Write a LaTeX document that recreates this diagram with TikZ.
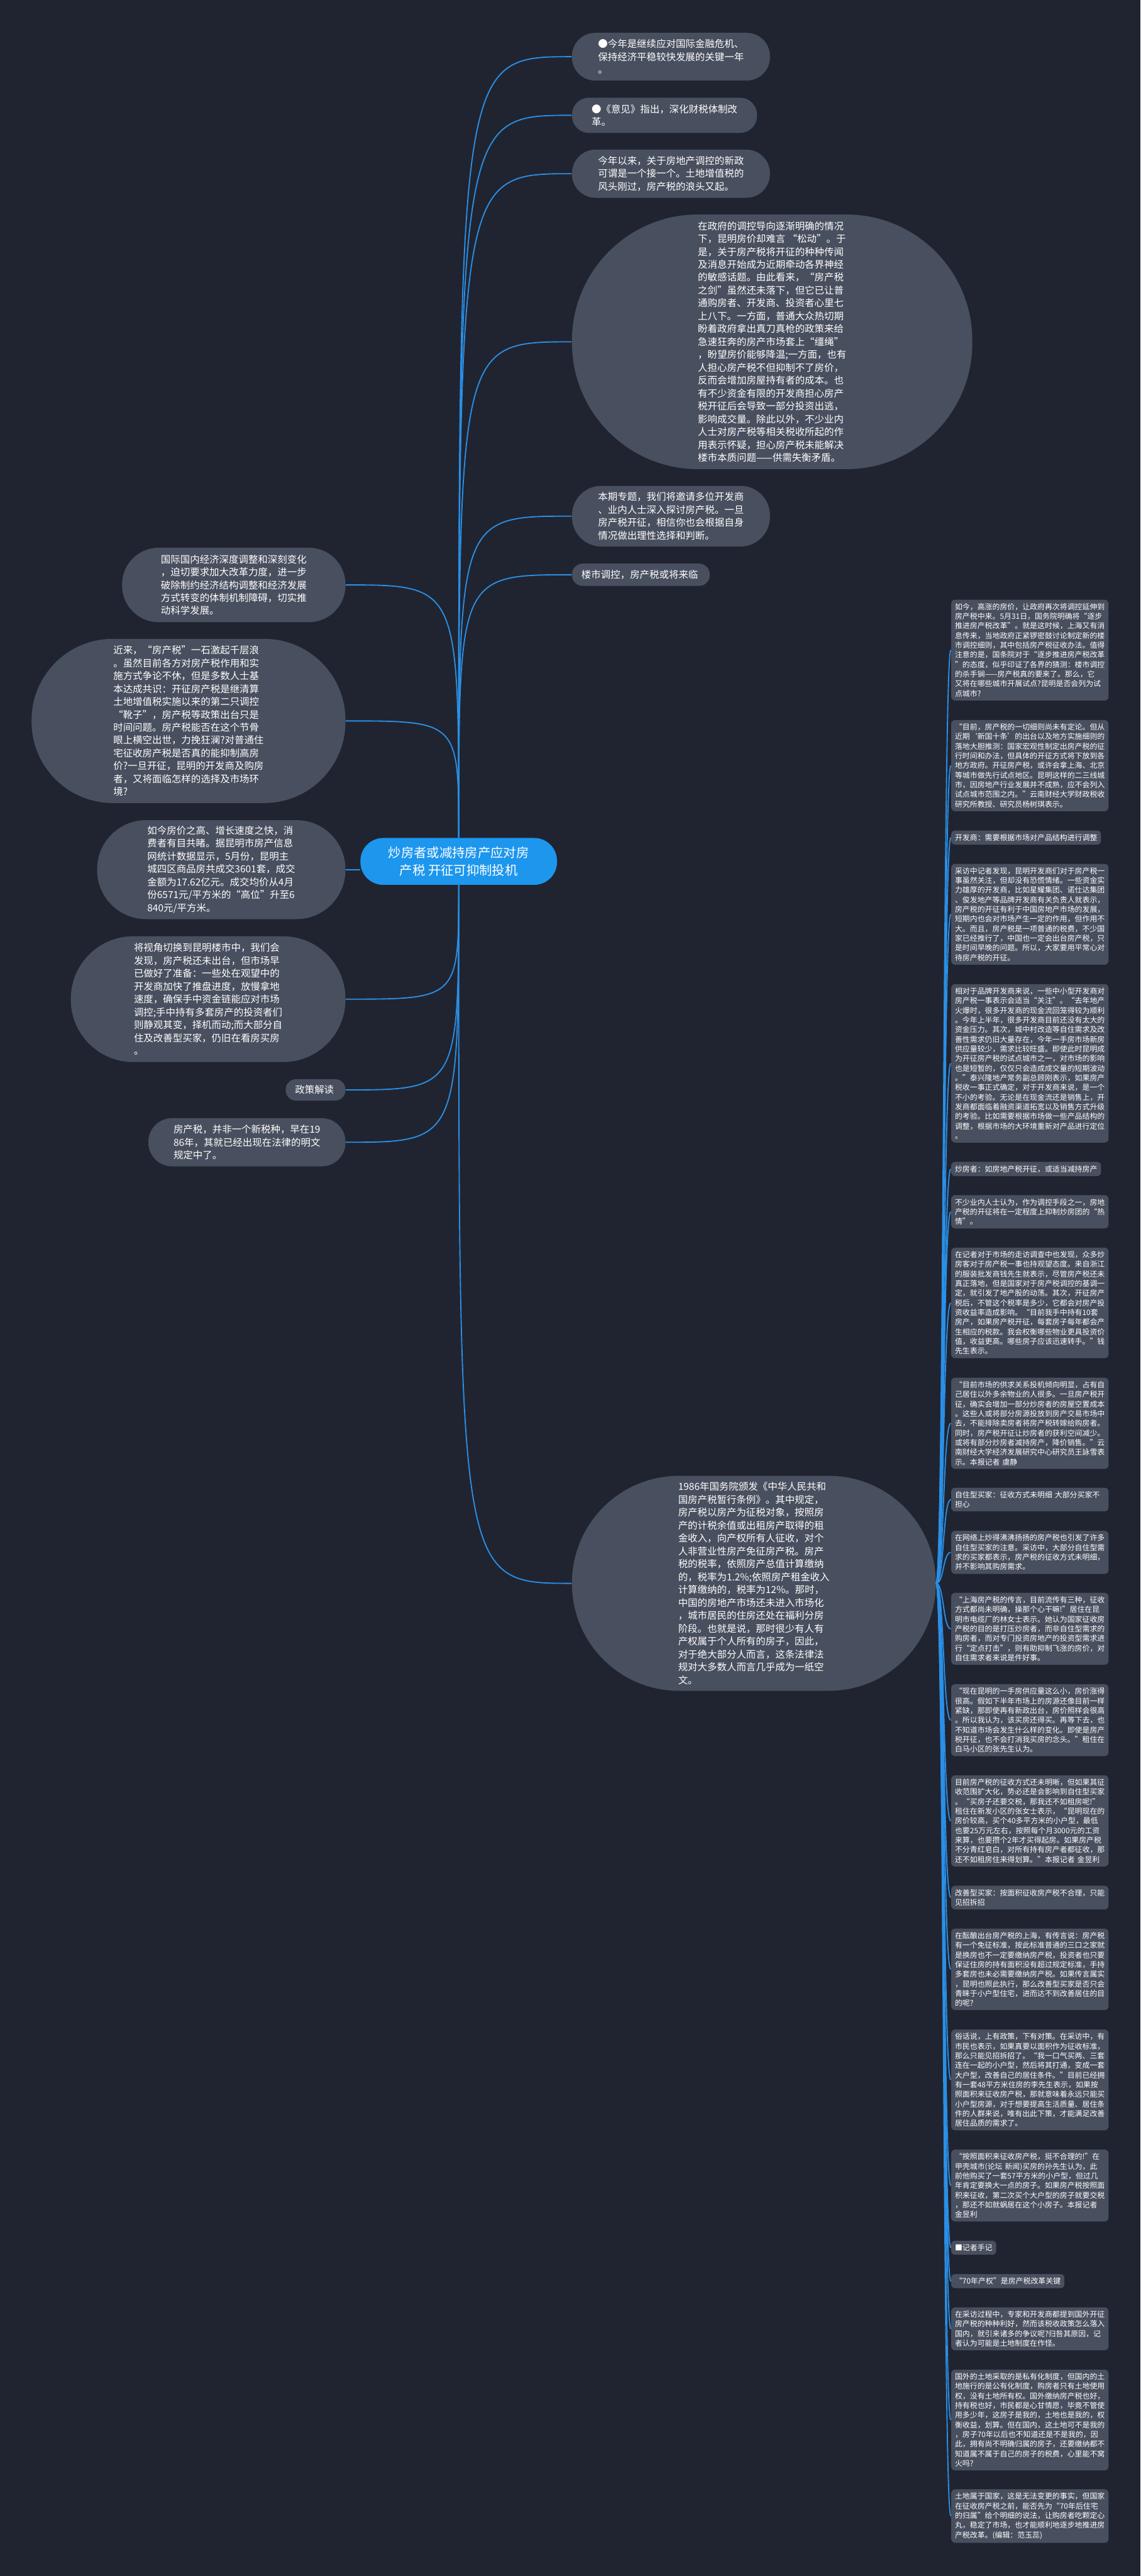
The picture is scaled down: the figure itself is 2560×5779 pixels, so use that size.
\documentclass[tikz,border=0pt]{standalone}
\usepackage{fontspec}
\setmainfont{Noto Sans CJK SC}
\usetikzlibrary{positioning}

\definecolor{bgNavy}{HTML}{202430}
\definecolor{bubbleGray}{HTML}{484F5E}
\definecolor{linkBlue}{HTML}{2A8FE6}
\definecolor{rootBlue}{HTML}{1D96EE}
\newcommand{\txtsize}[2]{\fontsize{#1pt}{#2pt}\selectfont}

\begin{document}
\begin{tikzpicture}[x=0.01cm, y=-0.01cm]
		\tikzstyle{bubble}=[fill=bubbleGray, text=white, align=left, inner sep=0pt, font=\txtsize{6.2}{8.22}]
		\tikzstyle{note}=[fill=bubbleGray, text=white, align=left, rounded corners=0.09cm, inner xsep=0.085cm, inner ysep=0.08cm, anchor=west, font=\txtsize{4.78}{6.15}]
		\tikzstyle{noteWide}=[note, text width=3.36cm]
		\tikzstyle{edgeLine}=[draw=linkBlue, line width=0.75pt]

		\fill[bgNavy] (0,0) rectangle (2560,5779);
		\useasboundingbox (0,0) rectangle (2560,5779);

		\node[fill=rootBlue, text=white, align=center, inner sep=0pt, minimum width=4.41cm, minimum height=1.05cm, rounded corners=0.51cm, font=\txtsize{8.17}{11.4}] (root) at (1029.5,1932.5) {
			炒房者或减持房产应对房\\产税 开征可抑制投机
		};

		\node[bubble, anchor=north west, minimum width=4.44cm, minimum height=1.07cm, rounded corners=0.52cm] (intro1) at (1283,73) {
			●今年是继续应对国际金融危机、\\保持经济平稳较快发展的关键一年\\。
		};

		\node[bubble, below=0.37cm of intro1.south west, anchor=north west, minimum width=4.15cm, minimum height=0.79cm, rounded corners=0.38cm] (intro2) {
			●《意见》指出，深化财税体制改\\革。
		};

		\node[bubble, below=0.36cm of intro2.south west, anchor=north west, minimum width=4.44cm, minimum height=1.08cm, rounded corners=0.53cm] (intro3) {
			今年以来，关于房地产调控的新政\\可谓是一个接一个。土地增值税的\\风头刚过，房产税的浪头又起。
		};

		\node[bubble, below=0.36cm of intro3.south west, anchor=north west, minimum width=8.98cm, minimum height=5.71cm, rounded corners=2.83cm] (intro4) {
			在政府的调控导向逐渐明确的情况\\下，昆明房价却难言 “松动”。于\\是，关于房产税将开征的种种传闻\\及消息开始成为近期牵动各界神经\\的敏感话题。由此看来，“房产税\\之剑”虽然还未落下，但它已让普\\通购房者、开发商、投资者心里七\\上八下。一方面，普通大众热切期\\盼着政府拿出真刀真枪的政策来给\\急速狂奔的房产市场套上“缰绳”\\，盼望房价能够降温;一方面，也有\\人担心房产税不但抑制不了房价，\\反而会增加房屋持有者的成本。也\\有不少资金有限的开发商担心房产\\税开征后会导致一部分投资出逃，\\影响成交量。除此以外，不少业内\\人士对房产税等相关税收所起的作\\用表示怀疑，担心房产税未能解决\\楼市本质问题——供需失衡矛盾。
		};

		\node[bubble, below=0.36cm of intro4.south west, anchor=north west, minimum width=4.44cm, minimum height=1.36cm, rounded corners=0.66cm] (intro5) {
			本期专题，我们将邀请多位开发商\\、业内人士深入探讨房产税。一旦\\房产税开征，相信你也会根据自身\\情况做出理性选择和判断。
		};

		\node[bubble, below=0.37cm of intro5.south west, anchor=north west, minimum width=3.09cm, minimum height=0.50cm, rounded corners=0.24cm] (intro6) {
			楼市调控，房产税或将来临
		};

		\node[bubble, anchor=north east, minimum width=5.01cm, minimum height=1.67cm, rounded corners=0.82cm] (left1) at (776,1228) {
			国际国内经济深度调整和深刻变化\\，迫切要求加大改革力度，进一步\\破除制约经济结构调整和经济发展\\方式转变的体制机制障碍，切实推\\动科学发展。
		};

		\node[bubble, below=0.36cm of left1.south east, anchor=north east, minimum width=7.04cm, minimum height=3.68cm, rounded corners=1.82cm] (left2) {
			近来，“房产税”一石激起千层浪\\。虽然目前各方对房产税作用和实\\施方式争论不休，但是多数人士基\\本达成共识：开征房产税是继清算\\土地增值税实施以来的第二只调控\\“靴子”，房产税等政策出台只是\\时间问题。房产税能否在这个节骨\\眼上横空出世，力挽狂澜?对普通住\\宅征收房产税是否真的能抑制高房\\价?一旦开征，昆明的开发商及购房\\者，又将面临怎样的选择及市场环\\境?
		};

		\node[bubble, below=0.37cm of left2.south east, anchor=north east, minimum width=5.57cm, minimum height=2.22cm, rounded corners=1.1cm] (left3) {
			如今房价之高、增长速度之快，消\\费者有目共睹。据昆明市房产信息\\网统计数据显示，5月份，昆明主\\城四区商品房共成交3601套，成交\\金额为17.62亿元。成交均价从4月\\份6571元/平方米的“高位”升至6\\840元/平方米。
		};

		\node[bubble, below=0.37cm of left3.south east, anchor=north east, minimum width=6.16cm, minimum height=2.82cm, rounded corners=1.4cm] (left4) {
			将视角切换到昆明楼市中，我们会\\发现，房产税还未出台，但市场早\\已做好了准备：一些处在观望中的\\开发商加快了推盘进度，放慢拿地\\速度，确保手中资金链能应对市场\\调控;手中持有多套房产的投资者们\\则静观其变，择机而动;而大部分自\\住及改善型买家，仍旧在看房买房\\。
		};

		\node[bubble, below=0.37cm of left4.south east, anchor=north east, minimum width=1.34cm, minimum height=0.48cm, rounded corners=0.23cm] (left5) {
			政策解读
		};

		\node[bubble, below=0.38cm of left5.south east, anchor=north east, minimum width=4.42cm, minimum height=1.08cm, rounded corners=0.53cm] (left6) {
			房产税，并非一个新税种，早在19\\86年，其就已经出现在法律的明文\\规定中了。
		};

		\node[bubble, anchor=west, minimum width=8.16cm, minimum height=4.82cm, rounded corners=2.4cm] (lawNode) at (1283,3552) {
			1986年国务院颁发《中华人民共和\\国房产税暂行条例》。其中规定，\\房产税以房产为征税对象，按照房\\产的计税余值或出租房产取得的租\\金收入，向产权所有人征收，对个\\人非营业性房产免征房产税。房产\\税的税率，依照房产总值计算缴纳\\的，税率为1.2\%;依照房产租金收入\\计算缴纳的，税率为12\%。那时，\\中国的房地产市场还未进入市场化\\，城市居民的住房还处在福利分房\\阶段。也就是说，那时很少有人有\\产权属于个人所有的房子，因此，\\对于绝大部分人而言，这条法律法\\规对大多数人而言几乎成为一纸空\\文。
		};

		\node[noteWide] (note1) at (2134,1458.5) {
			如今，高涨的房价，让政府再次将调控延伸到\\房产税中来。5月31日，国务院明确将“逐步\\推进房产税改革”。就是这时候，上海又有消\\息传来，当地政府正紧锣密鼓讨论制定新的楼\\市调控细则，其中包括房产税征收办法。值得\\注意的是，国条院对于“逐步推进房产税改革\\”的态度，似乎印证了各界的猜测：楼市调控\\的杀手锏——房产税真的要来了。那么，它\\又将在哪些城市开展试点?昆明是否会列为试\\点城市?
		};
		\node[noteWide] (note2) at (2134,1717.5) {
			“目前，房产税的一切细则尚未有定论。但从\\近期‘新国十条’的出台以及地方实施细则的\\落地大胆推测：国家宏观性制定出房产税的征\\行时间和办法，但具体的开征方式将下放到各\\地方政府。开征房产税，或许会拿上海、北京\\等城市做先行试点地区。昆明这样的二三线城\\市，因房地产行业发展并不成熟，应不会列入\\试点城市范围之内。”云南财经大学财政税收\\研究所教授、研究员杨树琪表示。
		};
		\node[note] (note3) at (2134,1879) {开发商：需要根据市场对产品结构进行调整};
		\node[noteWide] (note4) at (2134,2051) {
			采访中记者发现，昆明开发商们对于房产税一\\事虽然关注，但却没有恐慌情绪。一些资金实\\力雄厚的开发商，比如星耀集团、诺仕达集团\\、俊发地产等品牌开发商有关负责人就表示，\\房产税的开征有利于中国房地产市场的发展，\\短期内也会对市场产生一定的作用，但作用不\\大。而且，房产税是一项普通的税费，不少国\\家已经推行了，中国也一定会出台房产税，只\\是时间早晚的问题。所以，大家要用平常心对\\待房产税的开征。
		};
		\node[noteWide] (note5) at (2134,2385.5) {
			相对于品牌开发商来说，一些中小型开发商对\\房产税一事表示会适当“关注”。“去年地产\\火爆时，很多开发商的现金流回笼得较为顺利\\。今年上半年，很多开发商目前还没有太大的\\资金压力。其次，城中村改造等自住需求及改\\善性需求仍旧大量存在，今年一手房市场新房\\供应量较少，需求比较旺盛。即使此时昆明成\\为开征房产税的试点城市之一，对市场的影响\\也是短暂的，仅仅只会造成成交量的短期波动\\。”泰兴隆地产常务副总顾刚表示，如果房产\\税收一事正式确定，对于开发商来说，是一个\\不小的考验。无论是在现金流还是销售上，开\\发商都面临着融资渠道拓宽以及销售方式升级\\的考验。比如需要根据市场做一些产品结构的\\调整，根据市场的大环境重新对产品进行定位\\。
		};
		\node[note] (note6) at (2134,2622.5) {炒房者：如房地产税开征，或适当减持房产};
		\node[noteWide] (note7) at (2134,2718.5) {
			不少业内人士认为，作为调控手段之一，房地\\产税的开征将在一定程度上抑制炒房团的“热\\情”。
		};
		\node[noteWide] (note8) at (2134,2923) {
			在记者对于市场的走访调查中也发现，众多炒\\房客对于房产税一事也持观望态度。来自浙江\\的服装批发商钱先生就表示，尽管房产税还未\\真正落地，但是国家对于房产税调控的基调一\\定，就引发了地产股的动荡。其次，开征房产\\税后，不管这个税率是多少，它都会对房产投\\资收益率造成影响。“目前我手中持有10套\\房产，如果房产税开征，每套房子每年都会产\\生相应的税款。我会权衡哪些物业更具投资价\\值，收益更高。哪些房子应该迅速转手。”钱\\先生表示。
		};
		\node[noteWide] (note9) at (2134,3193) {
			“目前市场的供求关系投机倾向明显，占有自\\己居住以外多余物业的人很多。一旦房产税开\\征，确实会增加一部分炒房者的房屋空置成本\\。这些人或将部分房源投放到房产交易市场中\\去，不能排除卖房者将房产税转嫁给购房者。\\同时，房产税开征让炒房者的获利空间减少。\\或将有部分炒房者减持房产，降价销售。”云\\南财经大学经济发展研究中心研究员王詠雪表\\示。本报记者 虞静
		};
		\node[noteWide] (note10) at (2134,3364) {
			自住型买家：征收方式未明细 大部分买家不\\担心
		};
		\node[noteWide] (note11) at (2134,3482.5) {
			在网络上炒得沸沸扬扬的房产税也引发了许多\\自住型买家的注意。采访中，大部分自住型需\\求的买家都表示，房产税的征收方式未明细，\\并不影响其购房需求。
		};
		\node[noteWide] (note12) at (2134,3654) {
			“上海房产税的传言，目前流传有三种，征收\\方式都尚未明确，操那个心干嘛!”居住在昆\\明市电缆厂的林女士表示。她认为国家征收房\\产税的目的是打压炒房者，而非自住型需求的\\购房者，而对专门投资房地产的投资型需求进\\行“定点打击”，则有助抑制飞涨的房价，对\\自住需求者来说是件好事。
		};
		\node[noteWide] (note13) at (2134,3859) {
			“现在昆明的一手房供应量这么小，房价涨得\\很高。假如下半年市场上的房源还像目前一样\\紧缺，那即使再有新政出台，房价照样会很高\\。所以我认为，该买房还得买。再等下去，也\\不知道市场会发生什么样的变化。即使是房产\\税开征，也不会打消我买房的念头。”租住在\\白马小区的张先生认为。
		};
		\node[noteWide] (note14) at (2134,4085) {
			目前房产税的征收方式还未明晰，但如果其征\\收范围扩大化，势必还是会影响到自住型买家\\。“买房子还要交税，那我还不如租房呢!”\\租住在新发小区的张女士表示，“昆明现在的\\房价较高，买个40多平方米的小户型，最低\\也要25万元左右，按照每个月3000元的工资\\来算，也要攒个2年才买得起房。如果房产税\\不分青红皂白，对所有持有房产者都征收，那\\还不如租房住来得划算。”本报记者 金昱利
		};
		\node[noteWide] (note15) at (2134,4257) {
			改善型买家：按面积征收房产税不合理，只能\\见招拆招
		};
		\node[noteWide] (note16) at (2134,4418) {
			在酝酿出台房产税的上海，有传言说：房产税\\有一个免征标准，按此标准普通的三口之家就\\是换房也不一定要缴纳房产税，投资者也只要\\保证住房的持有面积没有超过规定标准，手持\\多套房也未必需要缴纳房产税。如果传言属实\\，昆明也照此执行，那么改善型买家是否只会\\青睐于小户型住宅，进而达不到改善居住的目\\的呢?
		};
		\node[noteWide] (note17) at (2134,4666) {
			俗话说，上有政策，下有对策。在采访中，有\\市民也表示，如果真要以面积作为征收标准，\\那么只能见招拆招了。“我一口气买两、三套\\连在一起的小户型，然后将其打通，变成一套\\大户型，改善自己的居住条件。”目前已经拥\\有一套48平方米住房的李先生表示，如果按\\照面积来征收房产税，那就意味着永远只能买\\小户型房源，对于想要提高生活质量、居住条\\件的人群来说，唯有出此下策，才能满足改善\\居住品质的需求了。
		};
		\node[noteWide] (note18) at (2134,4903) {
			“按照面积来征收房产税，挺不合理的!”在\\甲壳城市(论坛 新闻)买房的孙先生认为，此\\前他购买了一套57平方米的小户型，但过几\\年肯定要换大一点的房子。如果房产税按照面\\积来征收，第二次买个大户型的房子就要交税\\，那还不如就蜗居在这个小房子。本报记者\\金昱利
		};
		\node[note] (note19) at (2134,5042.5) {■记者手记};
		\node[note] (note20) at (2134,5117.5) {“70年产权”是房产税改革关键};
		\node[noteWide] (note21) at (2134,5224.5) {
			在采访过程中，专家和开发商都提到国外开征\\房产税的种种利好，然而该税收政策怎么落入\\国内，就引来诸多的争议呢?归咎其原因，记\\者认为可能是土地制度在作怪。
		};
		\node[noteWide] (note22) at (2134,5429) {
			国外的土地采取的是私有化制度，但国内的土\\地施行的是公有化制度，购房者只有土地使用\\权，没有土地所有权。国外缴纳房产税也好，\\持有税也好，市民都是心甘情愿，毕竟不管使\\用多少年，这房子是我的，土地也是我的，权\\衡收益，划算。但在国内，这土地可不是我的\\，房子70年以后也不知道还是不是我的，因\\此，拥有尚不明确归属的房子，还要缴纳都不\\知道属不属于自己的房子的税费，心里能不窝\\火吗?
		};
		\node[noteWide] (note23) at (2134,5644.5) {
			土地属于国家，这是无法变更的事实，但国家\\在征收房产税之前，能否先为“70年后住宅\\的归属”给个明细的说法，让购房者吃颗定心\\丸，稳定了市场，也才能顺利地逐步地推进房\\产税改革。(编辑：范玉蕊)
		};

		\foreach \k in {1,...,6}
			\draw[edgeLine] (root.north) .. controls (root.north |- intro\k.west) .. (intro\k.west);
		\foreach \k in {1,2}
			\draw[edgeLine] (root.north) .. controls (root.north |- left\k.east) .. (left\k.east);
		\draw[edgeLine] (left3.east) -- (left3.east -| root.west);
		\foreach \k in {4,5,6}
			\draw[edgeLine] (root.south) .. controls (root.south |- left\k.east) .. (left\k.east);
		\draw[edgeLine] (root.south) .. controls (root.south |- lawNode.west) .. (lawNode.west);
		\foreach \k in {1,...,23}
			\draw[edgeLine] (lawNode.east) .. controls +(18,0) and +(-18,0) .. (note\k.west);

	\end{tikzpicture}
\end{document}
